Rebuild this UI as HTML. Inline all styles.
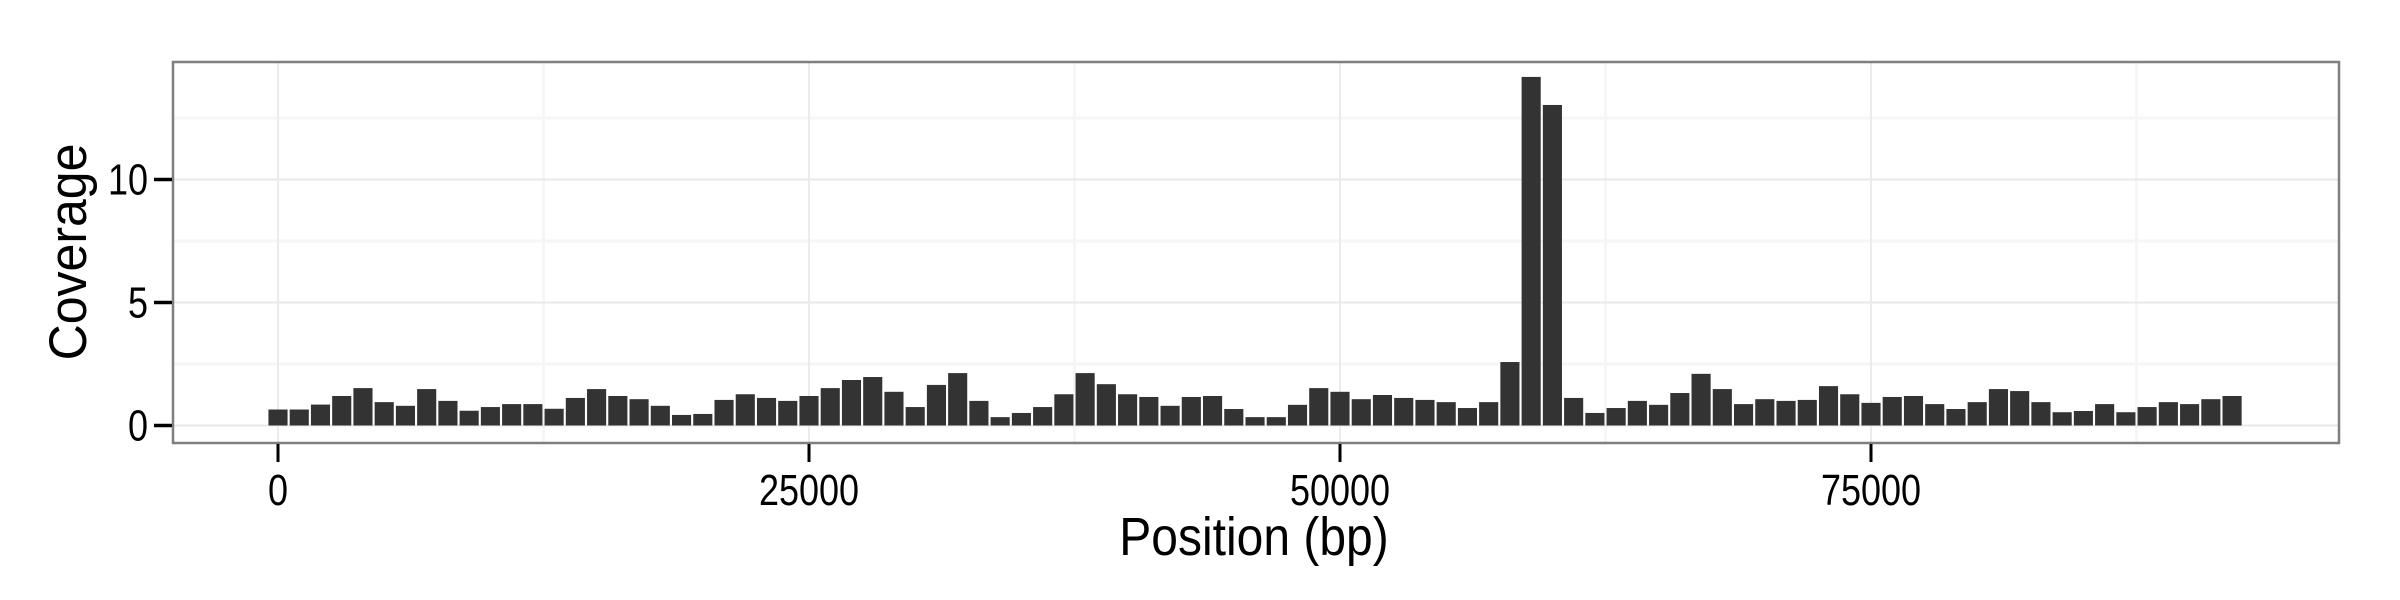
<!DOCTYPE html>
<html><head><meta charset="utf-8"><style>
html,body{margin:0;padding:0;background:#fff;}
svg{display:block;font-family:"Liberation Sans",sans-serif;}
</style></head><body>
<svg width="2400" height="600" viewBox="0 0 2400 600">
<g id="grid"></g>
<g id="bars"></g>
<rect x="173" y="62" width="2166" height="381" fill="none" stroke="#7f7f7f" stroke-width="2.5"/>
<g id="axes"></g>
<text x="1254" y="0" font-size="48" text-anchor="middle" fill="#000" transform="translate(0,555) scale(1,1.12)">Position (bp)</text>
<text transform="translate(86,252) rotate(-90) scale(1,1.05)" font-size="50" text-anchor="middle" fill="#000">Coverage</text>
</svg>
<script>
const positions = [0,1000,2000,3000,4000,5000,6000,7000,8000,9000,10000,11000,12000,13000,14000,15000,16000,17000,18000,19000,20000,21000,22000,23000,24000,25000,26000,27000,28000,29000,30000,31000,32000,33000,34000,35000,36000,37000,38000,39000,40000,41000,42000,43000,44000,45000,46000,47000,48000,49000,50000,51000,52000,53000,54000,55000,56000,57000,58000,59000,60000,61000,62000,63000,64000,65000,66000,67000,68000,69000,70000,71000,72000,73000,74000,75000,76000,77000,78000,79000,80000,81000,82000,83000,84000,85000,86000,87000,88000,89000,90000,91000,92000];
const coverage = [0.65,0.65,0.85,1.2,1.52,0.95,0.8,1.48,1.0,0.6,0.75,0.87,0.87,0.68,1.12,1.48,1.2,1.07,0.8,0.43,0.47,1.04,1.27,1.12,1.0,1.2,1.52,1.85,1.97,1.37,0.75,1.65,2.13,1.0,0.34,0.51,0.75,1.27,2.13,1.68,1.27,1.16,0.8,1.16,1.2,0.67,0.34,0.34,0.84,1.52,1.37,1.07,1.24,1.12,1.04,0.95,0.71,0.95,2.58,14.17,13.03,1.12,0.51,0.71,1.0,0.84,1.32,2.1,1.48,0.87,1.07,1.0,1.04,1.6,1.27,0.92,1.16,1.2,0.87,0.67,0.95,1.48,1.4,0.95,0.54,0.59,0.87,0.54,0.75,0.95,0.87,1.07,1.2];
const xTicks = [0,25000,50000,75000];
const xMinor = [12500,37500,62500,87500];
const yTicks = [0,5,10];
const yMinor = [2.5,7.5,12.5];
const binWidth = 1000;

const NS = "http://www.w3.org/2000/svg";
const X0 = 278, XPX = 531 / 25000;
const Y0 = 425.5, YPX = 24.6;
const xs = v => X0 + v * XPX;
const ys = v => Y0 - v * YPX;
const PL = 173, PR = 2339, PT = 62, PB = 443;

function mk(tag, attrs, parent){const e=document.createElementNS(NS,tag);for(const k in attrs)e.setAttribute(k,attrs[k]);parent.appendChild(e);return e;}
const grid = document.getElementById('grid');
const bars = document.getElementById('bars');
const axes = document.getElementById('axes');
mk('rect',{x:PL,y:PT,width:PR-PL,height:PB-PT,fill:'#fff'},grid);
yMinor.forEach(v=>{const l=mk('line',{x1:PL,x2:PR,y1:ys(v),y2:ys(v),stroke:'#f6f6f6','stroke-width':3},grid);

});
xMinor.forEach(v=>{const l=mk('line',{x1:xs(v),x2:xs(v),y1:PT,y2:PB,stroke:'#f6f6f6','stroke-width':3},grid);

});
yTicks.forEach(v=>{const l=mk('line',{x1:PL,x2:PR,y1:ys(v),y2:ys(v),stroke:'#e8e8e8','stroke-width':2},grid);

});
xTicks.forEach(v=>{const l=mk('line',{x1:xs(v),x2:xs(v),y1:PT,y2:PB,stroke:'#ebebeb','stroke-width':2},grid);

});
positions.forEach((p,i)=>{const w=binWidth*0.9*XPX;const v=coverage[i];
const r=mk('rect',{x:xs(p)-w/2,y:ys(v),width:w,height:ys(0)-ys(v),fill:'#333333'},bars);

});
yTicks.forEach(v=>{mk('line',{x1:154,x2:172,y1:ys(v),y2:ys(v),stroke:'#000','stroke-width':3.5},axes);
const t=mk('text',{x:0,y:0,'font-size':36,'text-anchor':'end',fill:'#000',transform:'translate(148,'+(ys(v)+15)+') scale(1,1.2)'},axes);t.textContent=v;

});
xTicks.forEach(v=>{mk('line',{x1:xs(v),x2:xs(v),y1:444,y2:462,stroke:'#000','stroke-width':3},axes);
const t=mk('text',{x:0,y:0,'font-size':36,'text-anchor':'middle',fill:'#000',transform:'translate('+xs(v)+',505) scale(1,1.2)'},axes);t.textContent=v;

});
</script>
</body></html>
